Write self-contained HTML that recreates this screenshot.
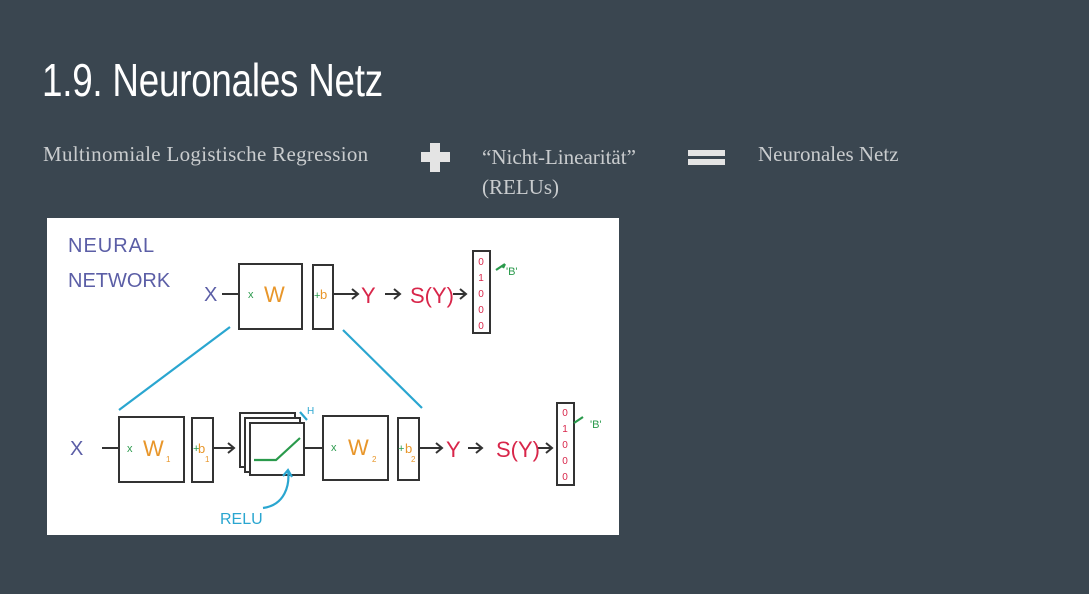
<!DOCTYPE html>
<html><head><meta charset="utf-8"><style>
body{margin:0;width:1089px;height:594px;background:#3a4650;position:relative;overflow:hidden;font-family:"Liberation Serif",serif}
.t{position:absolute;color:#fff;font-family:"Liberation Sans Narrow","Liberation Sans",sans-serif;font-size:46px;left:42px;top:53px;transform:scaleX(0.8);transform-origin:left top;letter-spacing:-0.3px}
.s{position:absolute;color:#c9ccce;font-size:21px}
</style></head><body>
<div class="t">1.9. Neuronales Netz</div>
<div class="s" style="left:43px;top:142px;letter-spacing:0.3px">Multinomiale Logistische Regression</div>
<div class="s" style="left:482px;top:142px;line-height:30px">“Nicht-Linearität”<br>(RELUs)</div>
<div class="s" style="left:758px;top:142px">Neuronales Netz</div>
<div style="position:absolute;left:430px;top:143px;width:10px;height:29px;background:#e4e4e4"></div>
<div style="position:absolute;left:421px;top:152px;width:29px;height:10px;background:#e4e4e4"></div>
<div style="position:absolute;left:688px;top:150px;width:37px;height:6px;background:#e4e4e4"></div>
<div style="position:absolute;left:688px;top:159px;width:37px;height:6px;background:#e4e4e4"></div>
<svg width="1089" height="594" style="position:absolute;left:0;top:0" font-family="Liberation Sans,sans-serif">
<rect x="47" y="218" width="572" height="317" fill="#fff"/>
<g fill="#5b5ea6" font-size="20"><text x="68" y="252" letter-spacing="1">NEURAL</text><text x="68" y="287" letter-spacing="0">NETWORK</text></g>
<g stroke="#333" stroke-width="2" fill="none">
<rect x="239" y="264" width="63" height="65"/><rect x="313" y="265" width="20" height="64"/>
<rect x="473" y="251" width="17" height="82"/>
<path d="M222 294H239M333 294H358M352 289l6 5-6 5M385 294H400M394 289l6 5-6 5M453 294H466M460 289l6 5-6 5"/>
<rect x="119" y="417" width="65" height="65"/><rect x="192" y="418" width="21" height="64"/>
<rect x="240" y="413" width="55" height="54" fill="#fff"/><rect x="245" y="418" width="55" height="54" fill="#fff"/><rect x="250" y="423" width="54" height="52" fill="#fff"/>
<rect x="323" y="416" width="65" height="64"/><rect x="398" y="418" width="21" height="62"/>
<rect x="557" y="403" width="17" height="82"/>
<path d="M102 448H119M213 448H234M228 443l6 5-6 5M304 448H323M419 448H442M436 443l6 5-6 5M468 448H482M476 443l6 5-6 5M537 448H552M546 443l6 5-6 5"/>
</g>
<g stroke="#2aa6d0" stroke-width="2.2" fill="none"><path d="M230 327L119 410M343 330L422 408"/>
<path d="M263 508C285 505 290 485 288 470M283 476l5-6 4 7M300 412l7 8"/></g>
<g stroke="#2a9a4c" stroke-width="2.2" fill="none"><path d="M254 460H276L300 438M496 270l9-6M505 264l-2 4M574 423l9-6"/></g>
<g fill="#5b5ea6" font-size="20"><text x="204" y="301">X</text><text x="70" y="455">X</text></g>
<g fill="#e8962a" font-size="22"><text x="264" y="302">W</text><text x="143" y="456">W</text><text x="348" y="455">W</text></g>
<g fill="#e8962a" font-size="13"><text x="320" y="299">b</text><text x="198" y="453">b</text><text x="405" y="453">b</text></g>
<g fill="#e8962a" font-size="8"><text x="166" y="462">1</text><text x="372" y="462">2</text><text x="205" y="462">1</text><text x="411" y="462">2</text></g>
<g fill="#2a9a4c" font-size="11"><text x="248" y="298">x</text><text x="314" y="299">+</text><text x="127" y="452">x</text><text x="193" y="452">+</text><text x="331" y="451">x</text><text x="398" y="452">+</text><text x="506" y="275">'B'</text><text x="590" y="428">'B'</text><text x="307" y="414" fill="#2aa6d0" font-size="10">H</text></g>
<g fill="#d8264a" font-size="22"><text x="361" y="303">Y</text><text x="410" y="303">S(Y)</text><text x="446" y="457">Y</text><text x="496" y="457">S(Y)</text></g>
<g fill="#d8264a" font-size="10" text-anchor="middle"><text x="481" y="265">0</text><text x="481" y="281">1</text><text x="481" y="297">0</text><text x="481" y="313">0</text><text x="481" y="329">0</text>
<text x="565" y="416">0</text><text x="565" y="432">1</text><text x="565" y="448">0</text><text x="565" y="464">0</text><text x="565" y="480">0</text></g>
<text x="220" y="524" fill="#2aa6d0" font-size="16">RELU</text>
</svg>
</body></html>
